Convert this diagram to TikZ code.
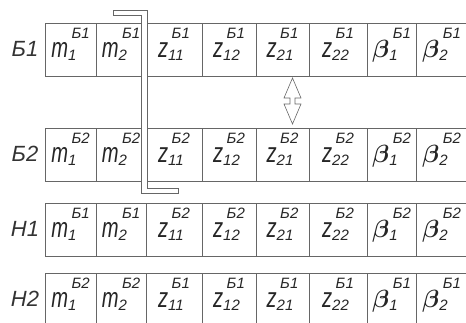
\documentclass[tikz,border=0pt]{standalone}
\usepackage{fontspec}
\usepackage{amsmath}
\newfontfamily\gostf{Liberation Sans}
\newfontfamily\gostn[FakeStretch=0.72]{Liberation Sans}
\newcommand\gostl{\gostf\itshape\fontsize{22}{22}\selectfont}
\newcommand\gostm{\gostn\itshape\fontsize{28}{28}\selectfont}
\newcommand\gosts{\gostf\itshape\fontsize{15}{15}\selectfont}
% 带上下标的符号
\newcommand\gsym[3]{{\gostm #1}\rlap{\raisebox{-3pt}{\gosts #2}}\hspace{3.5pt}\raisebox{19pt}{\gosts #3}}
\newcommand\bt{{\fontsize{30}{30}\selectfont$\boldsymbol{\beta}$}}
\begin{document}
\begin{tikzpicture}[x=1pt,y=-1pt,
    grid/.style={draw=black!60, line width=0.7pt},
    lbl/.style={anchor=base, text=black!80, inner sep=0pt, font=\gostl},
    sym/.style={anchor=base, text=black!85, inner sep=0pt}]
    \useasboundingbox (0,0) rectangle (466,322);
    % 表格各行
    \foreach \y/\r/\lab/\sa/\sb in {23/1/Б1/Б1/Б1, 128/2/Б2/Б2/Б2, 203/3/Н1/Б1/Б2, 273/4/Н2/Б2/Б1}{
        \draw[grid] (45,\y) rectangle (467,\y+53);
        \foreach \x in {96,146,202,256,309,367,416}
            \draw[grid] (\x,\y) -- (\x,\y+53);
        \node[lbl] (lab\r) at (25,\y+33) {\lab};
        \foreach \c/\x/\m/\s in {1/70.5/m/1, 2/121/m/2, 3/174/z/11, 4/229/z/12,
                5/282.5/z/21, 6/338/z/22, 7/391.5/\bt/1, 8/441.5/\bt/2}
            \node[sym] (c\r-\c) at (\x,\y+34) {\gsym{\m}{\s}{\ifnum\c<3 \sa\else\sb\fi}};
    }
    % 分隔条
    \draw[grid, fill=white] (113,10) -- (147,10) -- (147,188) -- (178,188) -- (178,193)
        -- (141,193) -- (141,15) -- (113,15) -- cycle;
    % 交换箭头
    \draw[grid, line width=0.6pt] (292.5,78) -- (301,98) -- (295,98) -- (295,104) -- (301,104)
        -- (292.5,124) -- (284,104) -- (290,104) -- (290,98) -- (284,98) -- cycle;
\end{tikzpicture}
\end{document}
